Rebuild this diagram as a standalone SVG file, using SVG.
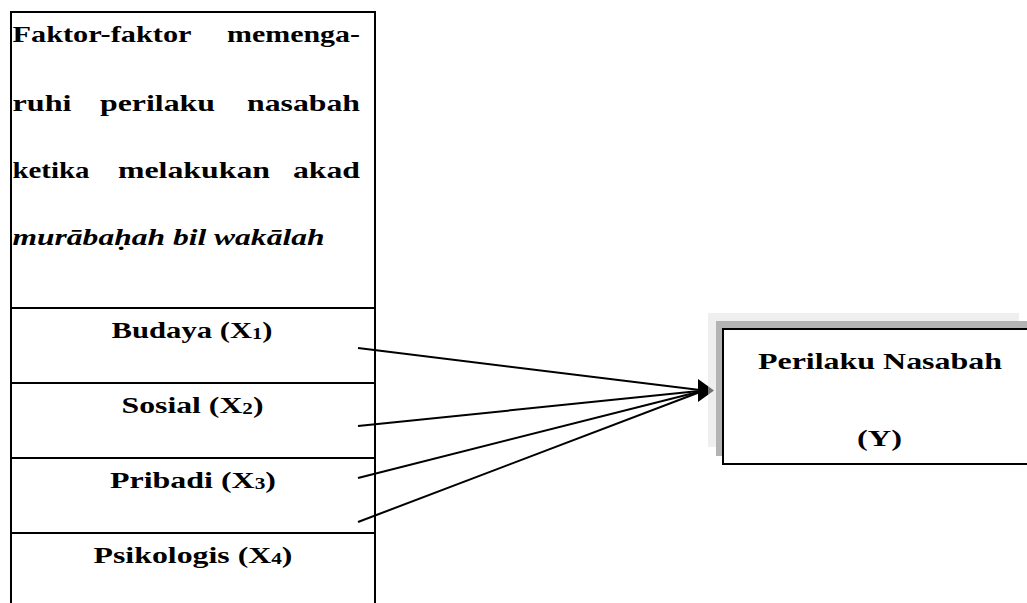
<svg xmlns="http://www.w3.org/2000/svg" width="1027" height="603" viewBox="0 0 1027 603">
<style>
.t{font-family:"Liberation Serif","Times New Roman",serif;font-weight:bold;font-size:24px;fill:#000}
.i{font-style:italic}
.sub{font-size:16px}
.box{fill:#fff;stroke:#000;stroke-width:2}
.ln{stroke:#000;stroke-width:2;fill:none}
.conn{stroke:#000;stroke-width:2;fill:none}
</style>
<rect width="1027" height="603" fill="#fff"/>
<g id="faktor">
<rect class="box" x="11" y="12" width="364" height="600"/>
<text class="t" x="12.5" y="42" textLength="179" lengthAdjust="spacingAndGlyphs">Faktor-faktor</text>
<text class="t" x="227" y="42" textLength="133" lengthAdjust="spacingAndGlyphs">memenga-</text>
<text class="t" x="12.5" y="111" textLength="59" lengthAdjust="spacingAndGlyphs">ruhi</text>
<text class="t" x="100" y="111" textLength="115" lengthAdjust="spacingAndGlyphs">perilaku</text>
<text class="t" x="247" y="111" textLength="113" lengthAdjust="spacingAndGlyphs">nasabah</text>
<text class="t" x="12.5" y="178" textLength="77" lengthAdjust="spacingAndGlyphs">ketika</text>
<text class="t" x="118" y="178" textLength="152" lengthAdjust="spacingAndGlyphs">melakukan</text>
<text class="t" x="293" y="178" textLength="67" lengthAdjust="spacingAndGlyphs">akad</text>
<text class="t i" x="12.5" y="245" textLength="312" lengthAdjust="spacingAndGlyphs">murābaḥah bil wakālah</text>
</g>
<g id="budaya">
<line class="ln" x1="11" y1="308" x2="375" y2="308"/>
<text class="t" x="111.5" y="338" textLength="161" lengthAdjust="spacingAndGlyphs">Budaya (X<tspan class="sub" dy="1">1</tspan><tspan dy="-1">)</tspan></text>
</g>
<g id="sosial">
<line class="ln" x1="11" y1="383" x2="375" y2="383"/>
<text class="t" x="121.5" y="413" textLength="142" lengthAdjust="spacingAndGlyphs">Sosial (X<tspan class="sub" dy="1">2</tspan><tspan dy="-1">)</tspan></text>
</g>
<g id="pribadi">
<line class="ln" x1="11" y1="458" x2="375" y2="458"/>
<text class="t" x="110" y="488" textLength="166" lengthAdjust="spacingAndGlyphs">Pribadi (X<tspan class="sub" dy="1">3</tspan><tspan dy="-1">)</tspan></text>
</g>
<g id="psikologis">
<line class="ln" x1="11" y1="533" x2="375" y2="533"/>
<text class="t" x="93.5" y="563" textLength="199" lengthAdjust="spacingAndGlyphs">Psikologis (X<tspan class="sub" dy="1">4</tspan><tspan dy="-1">)</tspan></text>
</g>
<g id="connectors">
<line class="conn" x1="358" y1="348" x2="704" y2="390.5"/>
<line class="conn" x1="358" y1="426" x2="704" y2="390.5"/>
<line class="conn" x1="358" y1="478" x2="704" y2="390.5"/>
<line class="conn" x1="358" y1="522" x2="704" y2="390.5"/>
<polygon points="698,379 714,390.5 698,402" fill="#000"/>
</g>
<g id="perilaku">
<rect x="708" y="313" width="311" height="134" fill="#e0e0e0" fill-opacity="0.5"/>
<rect x="716" y="321" width="330" height="135" fill="#b4b4b4"/>
<rect class="box" x="723" y="329" width="320" height="135"/>
<text class="t" x="758" y="369" textLength="244" lengthAdjust="spacingAndGlyphs">Perilaku Nasabah</text>
<text class="t" x="857" y="446" textLength="45" lengthAdjust="spacingAndGlyphs">(Y)</text>
</g>
</svg>
